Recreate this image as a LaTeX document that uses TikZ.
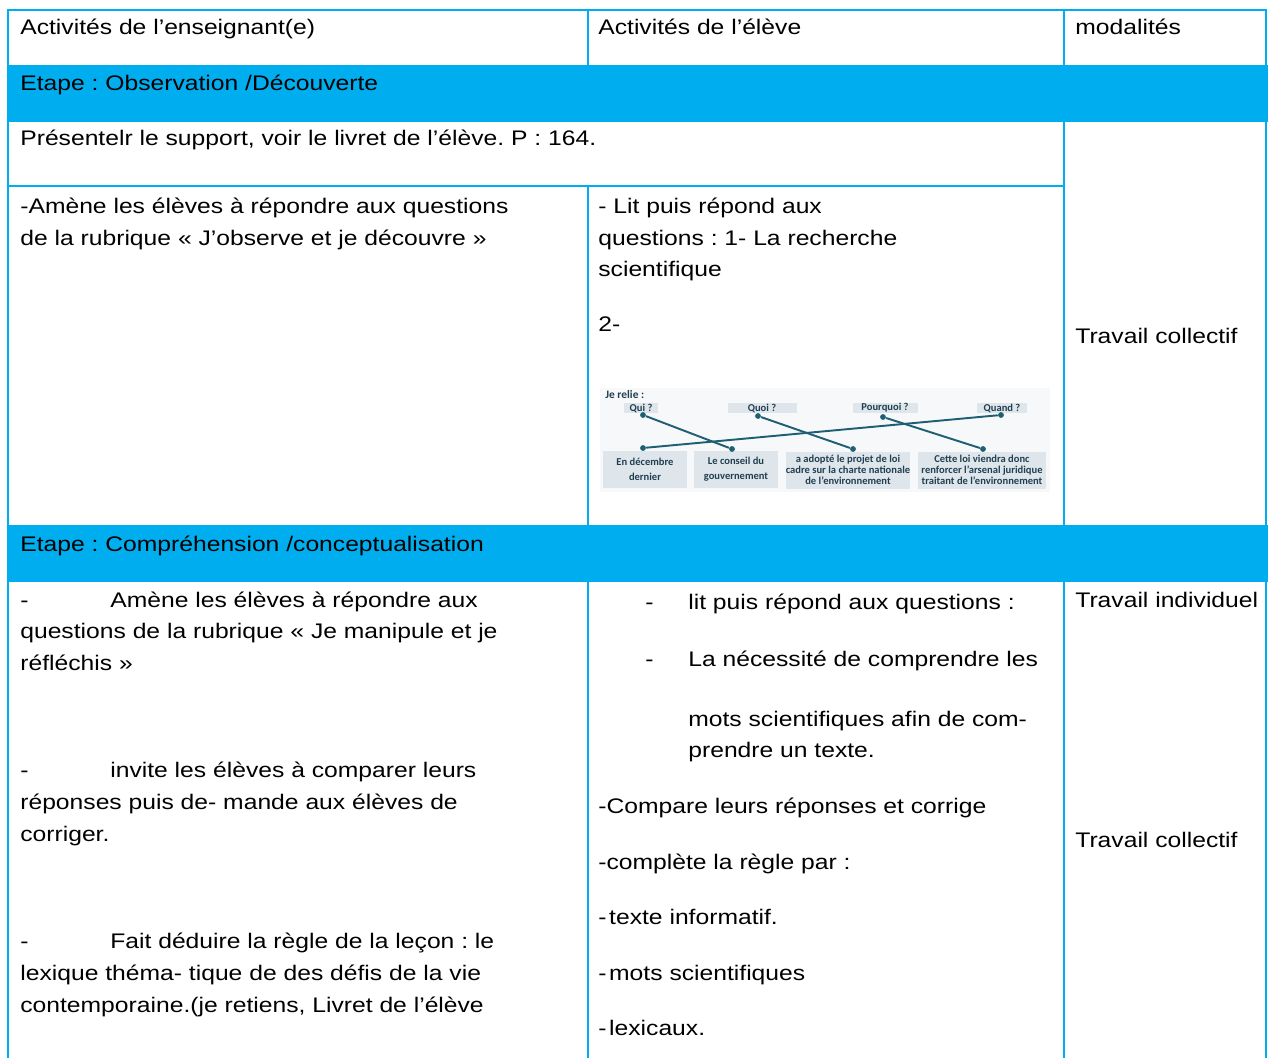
\documentclass[tikz,border=0pt]{standalone}
\usepackage{fontspec}
\setmainfont{Liberation Sans}[FakeStretch=1.17]
\newfontfamily\reliefont{Carlito}
\frenchspacing
\usetikzlibrary{calc}
\definecolor{cyanbar}{RGB}{0,174,239}
\definecolor{reliecol}{RGB}{30,95,115}
\definecolor{relietext}{RGB}{34,63,80}
\definecolor{boxfill}{RGB}{222,230,236}
\definecolor{imgback}{RGB}{247,248,250}
\tikzset{
  txt/.style={anchor=base west, inner sep=0pt, font=\fontsize{12}{14}\selectfont},
  grid/.style={draw=cyanbar, line width=1.1pt},
  qbox/.style={fill=boxfill, inner sep=0pt, align=center, text=relietext,
    font=\reliefont\bfseries\fontsize{6}{6.2}\selectfont},
  dot/.style={circle, fill=reliecol, inner sep=0pt, minimum size=3.3pt},
  link/.style={draw=reliecol, line width=1.1pt}
}
\begin{document}
\begin{tikzpicture}[x=0.02cm,y=-0.02cm]
        \useasboundingbox (0,0) rectangle (1268,1058);
        % Grid
        \draw[grid] (8,1058) -- (8,10) -- (1266,10) -- (1266,1058);
        \draw[grid] (8,186) -- (1064,186);
        \draw[grid] (588,10) -- (588,65);
        \draw[grid] (1064,10) -- (1064,65);
        \draw[grid] (588,186) -- (588,525);
        \draw[grid] (1064,122) -- (1064,525);
        \draw[grid] (588,582) -- (588,1058);
        \draw[grid] (1064,582) -- (1064,1058);
        \fill[cyanbar] (8,65) rectangle (1268,122);
        \fill[cyanbar] (8,525) rectangle (1268,582);

        % Header
        \draw (20,34) node[txt] (hdEns) {Activités de l’enseignant(e)};
        \draw (598,34) node[txt] (hdEleve) {Activités de l’élève};
        \draw (1075,34) node[txt] (hdMod) {modalités};

        % First step
        \draw (20,90) node[txt] (etapeA) {Etape : Observation /Découverte};
        \draw (20,145) node[txt] (supp) {Présentelr le support, voir le livret de l’élève. P : 164.};
        \draw (20,213) node[txt] (ensA1) {-Amène les élèves à répondre aux questions};
        \draw (20,245) node[txt] (ensA2) {de la rubrique « J’observe et je découvre »};
        \draw (598,213) node[txt] (elA1) {- Lit puis répond aux};
        \draw (598,245) node[txt] (elA2) {questions : 1- La recherche};
        \draw (598,276) node[txt] (elA3) {scientifique};
        \draw (598,331) node[txt] (elA4) {2-};
        \draw (1075,343) node[txt] (modA) {Travail collectif};

        % Je relie
        \fill[imgback] (600,388) rectangle (1050,492);
        \draw (605,398) node[anchor=base west, inner sep=0pt, text=relietext,
          font=\reliefont\bfseries\fontsize{6.5}{7}\selectfont] (jerelie) {Je relie :};
        \node[qbox, minimum width=0.68cm, minimum height=0.2cm] (qQui) at (641,408) {Qui ?};
        \node[qbox, minimum width=1.38cm, minimum height=0.2cm] (qQuoi) at (762,408) {Quoi ?};
        \node[qbox, minimum width=1.30cm, minimum height=0.2cm] (qPourquoi) at (885,408) {Pourquoi ?};
        \node[qbox, minimum width=1.00cm, minimum height=0.2cm] (qQuand) at (1002,408) {Quand ?};
        \node[qbox, minimum width=1.68cm, minimum height=0.74cm] (aDec) at (645,469) {En décembre\\[2.5pt]dernier};
        \node[qbox, minimum width=1.68cm, minimum height=0.74cm] (aConseil) at (736,469) {Le conseil du\\[2.5pt]gouvernement};
        \node[qbox, minimum width=2.48cm, minimum height=0.74cm] (aAdopte) at (848,470) {a adopté le projet de loi\\cadre sur la charte nationale\\de l’environnement};
        \node[qbox, minimum width=2.56cm, minimum height=0.74cm] (aLoi) at (982,470) {Cette loi viendra donc\\renforcer l’arsenal juridique\\traitant de l’environnement};
        \node[dot] (dQui) at (643,415) {};
        \node[dot] (dQuoi) at (758,416) {};
        \node[dot] (dPourquoi) at (883,417) {};
        \node[dot] (dQuand) at (1001,415) {};
        \node[dot] (dDec) at (643,448) {};
        \node[dot] (dConseil) at (732,449) {};
        \node[dot] (dAdopte) at (853,449) {};
        \node[dot] (dLoi) at (983,449) {};
        \draw[link] (dQui) -- (dConseil);
        \draw[link] (dQuoi) -- (dAdopte);
        \draw[link] (dPourquoi) -- (dLoi);
        \draw[link] (dQuand) -- (dDec);

        % Second step
        \draw (20,551) node[txt] (etapeB) {Etape : Compréhension /conceptualisation};
        \draw (20,607) node[txt] (ensB1) {\makebox[1.8cm][l]{-}Amène les élèves à répondre aux};
        \draw (20,638) node[txt] (ensB2) {questions de la rubrique « Je manipule et je};
        \draw (20,670) node[txt] (ensB3) {réfléchis »};
        \draw (20,777) node[txt] (ensC1) {\makebox[1.8cm][l]{-}invite les élèves à comparer leurs};
        \draw (20,809) node[txt] (ensC2) {réponses puis de- mande aux élèves de};
        \draw (20,841) node[txt] (ensC3) {corriger.};
        \draw (20,948) node[txt] (ensD1) {\makebox[1.8cm][l]{-}Fait déduire la règle de la leçon : le};
        \draw (20,980) node[txt] (ensD2) {lexique théma- tique de des défis de la vie};
        \draw (20,1012) node[txt] (ensD3) {contemporaine.(je retiens, Livret de l’élève};

        \draw (645,609) node[txt] (elB1) {\makebox[0.86cm][l]{-}lit puis répond aux questions :};
        \draw (645,666) node[txt] (elB2) {\makebox[0.86cm][l]{-}La nécessité de comprendre les};
        \draw (688,726) node[txt] (elB3) {mots scientifiques afin de com-};
        \draw (688,757) node[txt] (elB4) {prendre un texte.};
        \draw (598,813) node[txt] (elC1) {-Compare leurs réponses et corrige};
        \draw (598,869) node[txt] (elC2) {-complète la règle par :};
        \draw (598,924) node[txt] (elC3) {-\hspace{1.5pt}texte informatif.};
        \draw (598,980) node[txt] (elC4) {-\hspace{1.5pt}mots scientifiques};
        \draw (598,1035) node[txt] (elC5) {-\hspace{1.5pt}lexicaux.};

        \draw (1075,607) node[txt] (modB) {Travail individuel};
        \draw (1075,847) node[txt] (modC) {Travail collectif};
\end{tikzpicture}
\end{document}
